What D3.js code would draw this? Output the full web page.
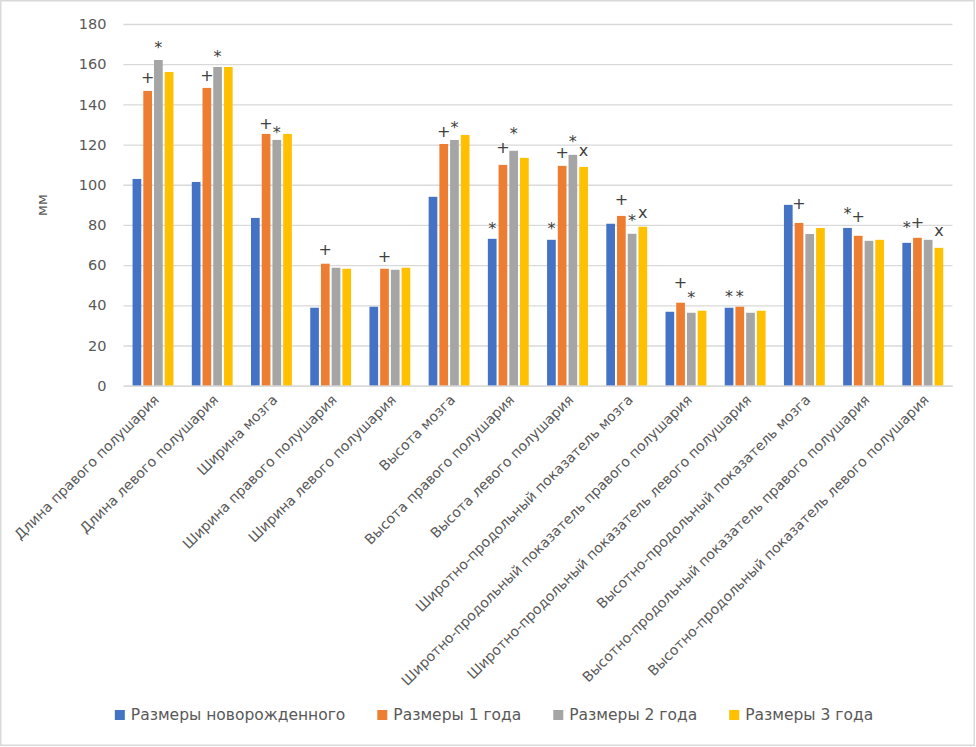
<!DOCTYPE html>
<html>
<head>
<meta charset="utf-8">
<script src="https://cdn.jsdelivr.net/npm/d3@7"></script>
<style>
  html, body { margin: 0; padding: 0; background: #fff; }
  svg text { font-family: "DejaVu Sans", sans-serif; }
</style>
</head>
<body>
<svg id="chart" width="976" height="747"></svg>
<script>
const categories = [
  "Длина правого полушария",
  "Длина левого полушария",
  "Ширина мозга",
  "Ширина правого полушария",
  "Ширина левого полушария",
  "Высота мозга",
  "Высота правого полушария",
  "Высота левого полушария",
  "Широтно-продольный показатель мозга",
  "Широтно-продольный показатель правого полушария",
  "Широтно-продольный показатель левого полушария",
  "Высотно-продольный показатель мозга",
  "Высотно-продольный показатель правого полушария",
  "Высотно-продольный показатель левого полушария"
];
const seriesNames = ["Размеры новорожденного", "Размеры 1 года", "Размеры 2 года", "Размеры 3 года"];
const newborn = [102.9, 101.4, 83.5, 38.8, 39.3, 94.0, 73.1, 72.6, 80.6, 36.8, 38.8, 90.0, 78.5, 71.1];
const year1   = [146.7, 148.2, 125.3, 60.7, 58.2, 120.3, 109.9, 109.4, 84.5, 41.3, 39.3, 81.0, 74.6, 73.6];
const year2   = [162.1, 158.6, 122.3, 58.7, 57.7, 122.3, 116.9, 114.9, 75.6, 36.3, 36.3, 75.5, 72.1, 72.6];
const year3   = [156.1, 158.6, 125.3, 58.2, 58.7, 124.8, 113.4, 108.9, 79.1, 37.3, 37.3, 78.5, 72.6, 68.6];
const yTicks = [0, 20, 40, 60, 80, 100, 120, 140, 160, 180];
const yTitle = "мм";
// significance marks: [category index, series index, symbol, level on value axis]
const marks = [
  [0, 1, "+", 153.3], [0, 2, "*", 170.4],
  [1, 1, "+", 154.3], [1, 2, "*", 165.6],
  [2, 1, "+", 130.4], [2, 2, "*", 128.1],
  [3, 1, "+", 67.8],
  [4, 1, "+", 64.3],
  [5, 1, "+", 126.6], [5, 2, "*", 130.3],
  [6, 0, "*", 80.1], [6, 1, "+", 118.2], [6, 2, "*", 127.3],
  [7, 0, "*", 80.1], [7, 1, "+", 115.7], [7, 2, "*", 123.3], [7, 3, "x", 116.4],
  [8, 1, "+", 92.8], [8, 2, "*", 84.0], [8, 3, "x", 85.5],
  [9, 1, "+", 51.1], [9, 2, "*", 45.7],
  [10, 0, "*", 46.1], [10, 1, "*", 46.1],
  [11, 1, "+", 90.4],
  [12, 0, "*", 87.5], [12, 1, "+", 84.2],
  [13, 0, "*", 80.4], [13, 1, "+", 80.9], [13, 3, "x", 76.6]
];

const seriesData = [newborn, year1, year2, year3];
const colors = ["#4472C4", "#ED7D31", "#A5A5A5", "#FFC000"];

const svg = d3.select("#chart");
const W = 976, H = 747;

svg.append("rect")
  .attr("x", 0.75).attr("y", 0.75)
  .attr("width", 973.5).attr("height", 744.5)
  .attr("fill", "#fff").attr("stroke", "#d9d9d9").attr("stroke-width", 1.5);

const plot = { left: 123.4, right: 952.4, top: 24, bottom: 385.7 };

const x0 = d3.scaleBand()
  .domain(categories)
  .range([plot.left, plot.right])
  .paddingInner(0.31).paddingOuter(0.155);
const x1 = d3.scaleBand()
  .domain(d3.range(seriesData.length))
  .range([0, x0.bandwidth()])
  .paddingInner(0.19);
const y = d3.scaleLinear().domain([0, 180]).range([plot.bottom, plot.top]);

// gridlines
const yAxis = d3.axisLeft(y).tickValues(yTicks).tickSize(-(plot.right - plot.left)).tickPadding(17);
const gy = svg.append("g").attr("transform", `translate(${plot.left},0)`).call(yAxis);
gy.select(".domain").remove();
gy.selectAll(".tick line").attr("stroke", "#d9d9d9").attr("stroke-width", 1.3);
gy.selectAll(".tick text")
  .attr("fill", "#595959").attr("font-size", 14.5);

// bars
const groups = svg.append("g").selectAll("g")
  .data(categories)
  .join("g")
  .attr("transform", d => `translate(${x0(d)},0)`);
groups.selectAll("rect")
  .data((d, i) => seriesData.map((s, j) => ({ j, v: s[i] })))
  .join("rect")
  .attr("x", d => x1(d.j))
  .attr("width", x1.bandwidth())
  .attr("y", d => y(d.v))
  .attr("height", d => y(0) - y(d.v))
  .attr("fill", d => colors[d.j]);

// baseline axis
const xAxis = d3.axisBottom(x0).tickSize(0).tickFormat("");
const gx = svg.append("g").attr("transform", `translate(0,${plot.bottom})`).call(xAxis);
gx.select(".domain").attr("stroke", "#d9d9d9").attr("stroke-width", 1.3);

// category labels
svg.append("g").selectAll("text")
  .data(categories)
  .join("text")
  .attr("transform", d => `translate(${x0(d) + x0.bandwidth() / 2 + 7},${plot.bottom + 15}) rotate(-45)`)
  .attr("text-anchor", "end")
  .attr("fill", "#595959")
  .attr("font-size", 14)
  .text(d => d);

// marks
const symOffset = { "+": 0.33, "*": 0.58, "x": 0.27 };
svg.append("g").selectAll("text")
  .data(marks)
  .join("text")
  .attr("x", d => x0(categories[d[0]]) + x1(d[1]) + x1.bandwidth() / 2)
  .attr("y", d => y(d[3]) + symOffset[d[2]] * 16)
  .attr("text-anchor", "middle")
  .attr("fill", "#404040")
  .attr("font-size", 16)
  .text(d => d[2]);

// y title
svg.append("text")
  .attr("transform", "translate(47,205) rotate(-90)")
  .attr("text-anchor", "middle")
  .attr("fill", "#595959")
  .attr("font-size", 14.5)
  .text(yTitle);

// legend
const legend = svg.append("g");
const items = legend.selectAll("g").data(seriesNames).join("g");
items.append("rect").attr("width", 10).attr("height", 10).attr("y", -10)
  .attr("fill", (d, i) => colors[i]);
items.append("text").attr("x", 16).attr("y", 0)
  .attr("fill", "#595959").attr("font-size", 15.5)
  .text(d => d);
let cx = 0;
const widths = [];
items.each(function () {
  const w = d3.select(this).select("text").node().getComputedTextLength();
  widths.push(16 + w);
});
const gap = 32;
const total = d3.sum(widths) + gap * (widths.length - 1);
let start = 494 - total / 2;
items.attr("transform", (d, i) => {
  const t = `translate(${start},720)`;
  start += widths[i] + gap;
  return t;
});
</script>
</body>
</html>
